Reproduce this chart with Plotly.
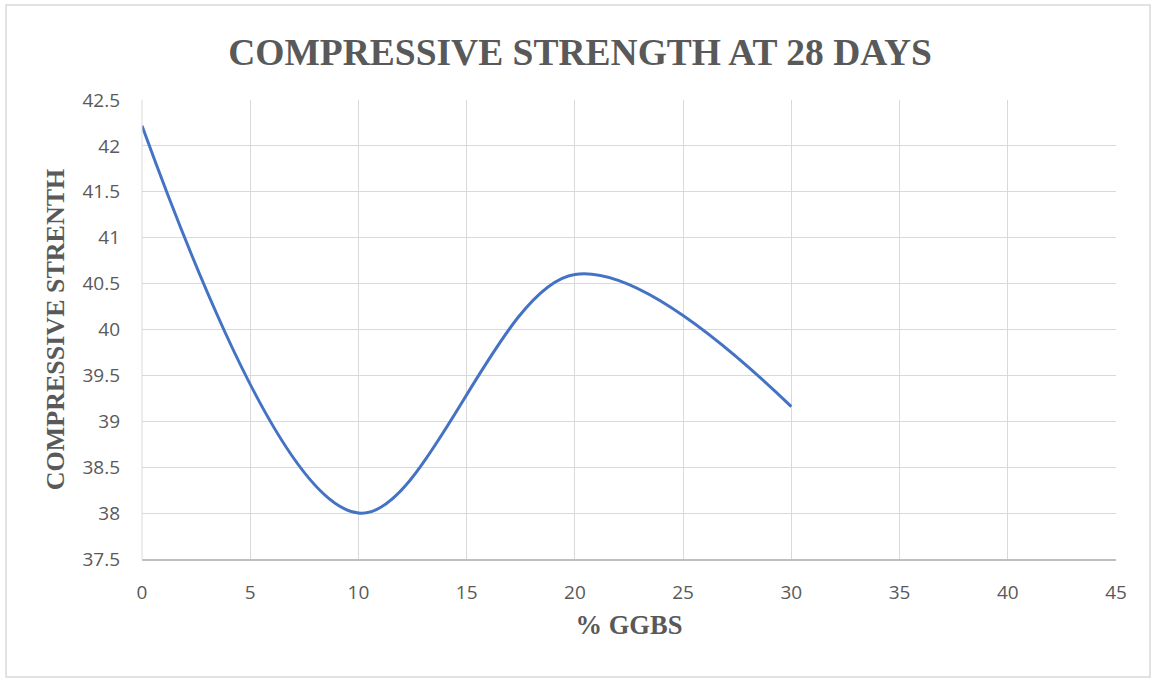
import plotly.graph_objects as go

ggbs = [0, 10, 20, 30]
strength = [42.22, 38.0, 40.6, 39.16]

title_text = "COMPRESSIVE STRENGTH AT 28 DAYS"
x_title = "% GGBS"
y_title = "COMPRESSIVE STRENTH"

W, H = 1156, 684
L, R, T, B = 142, 40, 100, 125
pw, ph = W - L - R, H - T - B

def px(x):
    return (x - L) / pw

def py(y):
    return (H - B - y) / ph

fig = go.Figure()
fig.add_trace(go.Scatter(
    x=ggbs, y=strength, mode="lines",
    line=dict(color="#4472C4", width=3, shape="spline", smoothing=1),
    hoverinfo="x+y", showlegend=False,
))

tick_font = dict(family="'Open Sans', sans-serif", size=19, color="#595959")
serif_bold = "'Liberation Serif', 'Times New Roman', serif"

fig.update_layout(
    width=W, height=H,
    margin=dict(l=L, r=R, t=T, b=B),
    paper_bgcolor="white", plot_bgcolor="white",
    title=dict(text="<b>" + title_text + "</b>", x=580 / W, xref="container", xanchor="center",
               y=1 - 52 / H, yanchor="middle", yref="container",
               font=dict(family=serif_bold, size=37.5, color="#595959")),
    xaxis=dict(range=[0, 45], dtick=5, tick0=0, showgrid=True, gridcolor="#D9D9D9",
               gridwidth=1, zeroline=False, showline=True, linecolor="#BFBFBF",
               linewidth=1.5, ticks="", tickfont=tick_font, ticklabelstandoff=15,
               title=dict(text="<b>" + x_title + "</b>", standoff=12,
                          font=dict(family=serif_bold, size=26.5, color="#595959"))),
    yaxis=dict(range=[37.5, 42.5], dtick=0.5, tick0=37.5, showgrid=True, gridcolor="#D9D9D9",
               gridwidth=1, zeroline=False, showline=False, ticks="", tickfont=tick_font,
               ticklabelstandoff=21,
               title=dict(text="<b>" + y_title + "</b>", standoff=10,
                          font=dict(family=serif_bold, size=26, color="#595959"))),
    shapes=[dict(type="rect", xref="paper", yref="paper",
                 x0=px(6), x1=px(1150), y0=py(677), y1=py(5),
                 line=dict(color="#D9D9D9", width=1.5), fillcolor="rgba(0,0,0,0)", layer="below"),
            dict(type="line", xref="paper", yref="paper", x0=0, x1=0, y0=0, y1=1,
                 line=dict(color="#D9D9D9", width=1))],
)

fig.write_html("out.html")
